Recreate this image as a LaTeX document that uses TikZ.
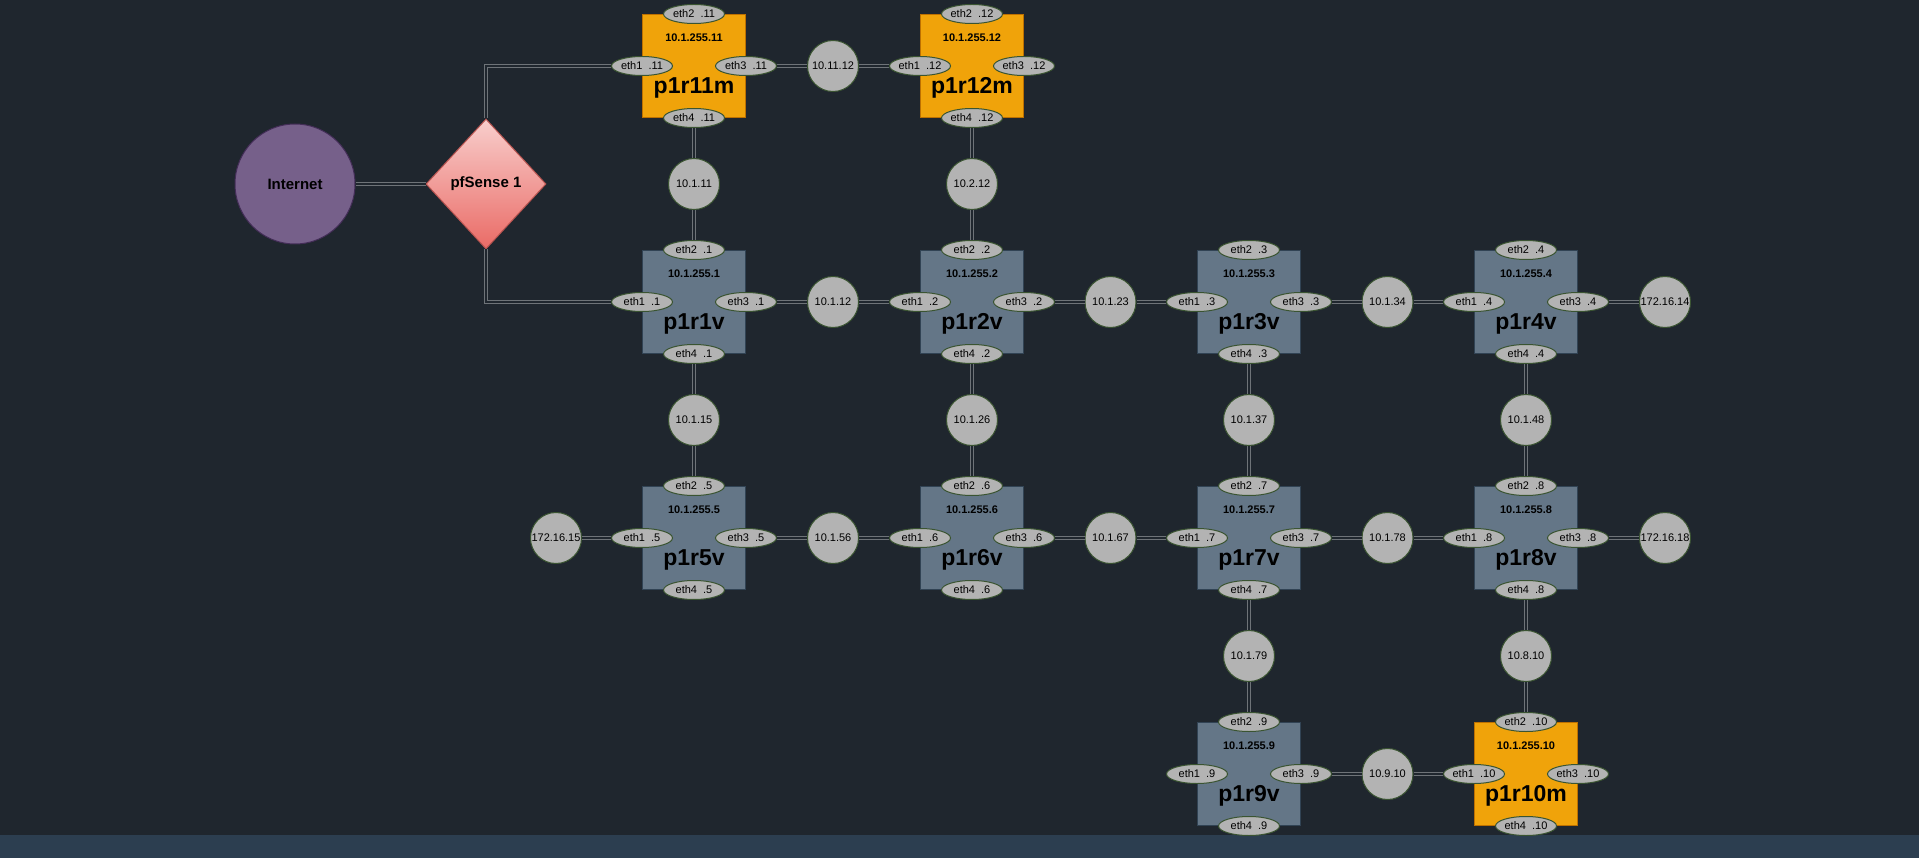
\documentclass[tikz,border=0pt]{standalone}
\usepackage{fontspec}
\setmainfont{Liberation Sans}
\usetikzlibrary{shapes.geometric}

\definecolor{bgcol}{HTML}{1F262E}
\definecolor{stripcol}{HTML}{2C3E50}
\definecolor{vfill}{HTML}{647687}
\definecolor{vline}{HTML}{314354}
\definecolor{mfill}{HTML}{F0A30A}
\definecolor{mline}{HTML}{BD7000}
\definecolor{pfill}{HTML}{B3B3B3}
\definecolor{pline}{HTML}{3A5431}
\definecolor{wcol}{HTML}{6E7378}
\definecolor{inetfill}{HTML}{76608A}
\definecolor{inetline}{HTML}{432D57}
\definecolor{pftop}{HTML}{F8CECC}
\definecolor{pfbottom}{HTML}{EA6B66}
\definecolor{pfline}{HTML}{B85450}

\begin{document}
\begin{tikzpicture}[x=1pt, y=-1pt,
    vbox/.style={rectangle, draw=vline, line width=1pt, fill=vfill, minimum size=103pt, inner sep=0pt},
    mbox/.style={vbox, draw=mline, fill=mfill},
    rip/.style={font=\bfseries\fontsize{11}{13}\selectfont, yshift=28pt},
    rname/.style={font=\bfseries\fontsize{23}{26}\selectfont, yshift=-22pt},
    port/.style={ellipse, draw=pline, line width=1pt, fill=pfill, minimum width=61pt, minimum height=19pt,
      inner sep=0pt, font=\fontsize{11}{13}\selectfont},
    net/.style={circle, draw=pline, line width=1pt, fill=pfill, minimum size=51pt, inner sep=0pt,
      font=\fontsize{11}{13}\selectfont},
    wire/.style={draw=wcol, line width=1pt, double=bgcol, double distance=2.7pt}
    ]
    \useasboundingbox (0,0) rectangle (1919,858);
    \fill[bgcol] (0,0) rectangle (1919,858);
    \fill[stripcol] (0,835) rectangle (1919,858);

    % edge of the lab
    \node[circle, draw=inetline, line width=1pt, fill=inetfill, minimum size=120pt, inner sep=0pt,
      font=\bfseries\fontsize{15}{17}\selectfont] (inet) at (295,184) {Internet};
    \node[diamond, draw=pfline, line width=1pt, top color=pftop, bottom color=pfbottom,
      minimum width=120pt, minimum height=130pt, inner sep=0pt,
      font=\bfseries\fontsize{15}{17}\selectfont] (pf) at (486,184) {pfSense 1};

    % routers
    \node[mbox, label={[rip]center:10.1.255.11}, label={[rname]center:p1r11m}] (r11) at (694,66) {};
    \node[mbox, label={[rip]center:10.1.255.12}, label={[rname]center:p1r12m}] (r12) at (972,66) {};
    \node[vbox, label={[rip]center:10.1.255.1}, label={[rname]center:p1r1v}] (r1) at (694,302) {};
    \node[vbox, label={[rip]center:10.1.255.2}, label={[rname]center:p1r2v}] (r2) at (972,302) {};
    \node[vbox, label={[rip]center:10.1.255.3}, label={[rname]center:p1r3v}] (r3) at (1249,302) {};
    \node[vbox, label={[rip]center:10.1.255.4}, label={[rname]center:p1r4v}] (r4) at (1526,302) {};
    \node[vbox, label={[rip]center:10.1.255.5}, label={[rname]center:p1r5v}] (r5) at (694,538) {};
    \node[vbox, label={[rip]center:10.1.255.6}, label={[rname]center:p1r6v}] (r6) at (972,538) {};
    \node[vbox, label={[rip]center:10.1.255.7}, label={[rname]center:p1r7v}] (r7) at (1249,538) {};
    \node[vbox, label={[rip]center:10.1.255.8}, label={[rname]center:p1r8v}] (r8) at (1526,538) {};
    \node[vbox, label={[rip]center:10.1.255.9}, label={[rname]center:p1r9v}] (r9) at (1249,774) {};
    \node[mbox, label={[rip]center:10.1.255.10}, label={[rname]center:p1r10m}] (r10) at (1526,774) {};

    % interfaces
    \foreach \r in {1,...,12} {
      \node[port] (e1-\r) at (r\r.west) {eth1~ .\r};
      \node[port] (e2-\r) at (r\r.north) {eth2~ .\r};
      \node[port] (e3-\r) at (r\r.east) {eth3~ .\r};
      \node[port] (e4-\r) at (r\r.south) {eth4~ .\r};
    }

    % networks
    \node[net] (n11-12) at (833,66) {10.11.12};
    \node[net] (n1-11) at (694,184) {10.1.11};
    \node[net] (n2-12) at (972,184) {10.2.12};
    \node[net] (n1-2) at (833,302) {10.1.12};
    \node[net] (n2-3) at (1110.5,302) {10.1.23};
    \node[net] (n3-4) at (1387.5,302) {10.1.34};
    \node[net] (n4) at (1665,302) {172.16.14};
    \node[net] (n1-5) at (694,420) {10.1.15};
    \node[net] (n2-6) at (972,420) {10.1.26};
    \node[net] (n3-7) at (1249,420) {10.1.37};
    \node[net] (n4-8) at (1526,420) {10.1.48};
    \node[net] (n5) at (556,538) {172.16.15};
    \node[net] (n5-6) at (833,538) {10.1.56};
    \node[net] (n6-7) at (1110.5,538) {10.1.67};
    \node[net] (n7-8) at (1387.5,538) {10.1.78};
    \node[net] (n8) at (1665,538) {172.16.18};
    \node[net] (n7-9) at (1249,656) {10.1.79};
    \node[net] (n8-10) at (1526,656) {10.8.10};
    \node[net] (n9-10) at (1387.5,774) {10.9.10};

    % links
    \draw[wire] (inet) -- (pf);
    \draw[wire] (pf.north) |- (e1-11);
    \draw[wire] (pf.south) |- (e1-1);
    \draw[wire] (e3-11) -- (n11-12) -- (e1-12);
    \draw[wire] (e4-11) -- (n1-11) -- (e2-1);
    \draw[wire] (e4-12) -- (n2-12) -- (e2-2);
    \draw[wire] (e3-1) -- (n1-2) -- (e1-2);
    \draw[wire] (e3-2) -- (n2-3) -- (e1-3);
    \draw[wire] (e3-3) -- (n3-4) -- (e1-4);
    \draw[wire] (e3-4) -- (n4);
    \draw[wire] (e4-1) -- (n1-5) -- (e2-5);
    \draw[wire] (e4-2) -- (n2-6) -- (e2-6);
    \draw[wire] (e4-3) -- (n3-7) -- (e2-7);
    \draw[wire] (e4-4) -- (n4-8) -- (e2-8);
    \draw[wire] (n5) -- (e1-5);
    \draw[wire] (e3-5) -- (n5-6) -- (e1-6);
    \draw[wire] (e3-6) -- (n6-7) -- (e1-7);
    \draw[wire] (e3-7) -- (n7-8) -- (e1-8);
    \draw[wire] (e3-8) -- (n8);
    \draw[wire] (e4-7) -- (n7-9) -- (e2-9);
    \draw[wire] (e4-8) -- (n8-10) -- (e2-10);
    \draw[wire] (e3-9) -- (n9-10) -- (e1-10);
\end{tikzpicture}
\end{document}
